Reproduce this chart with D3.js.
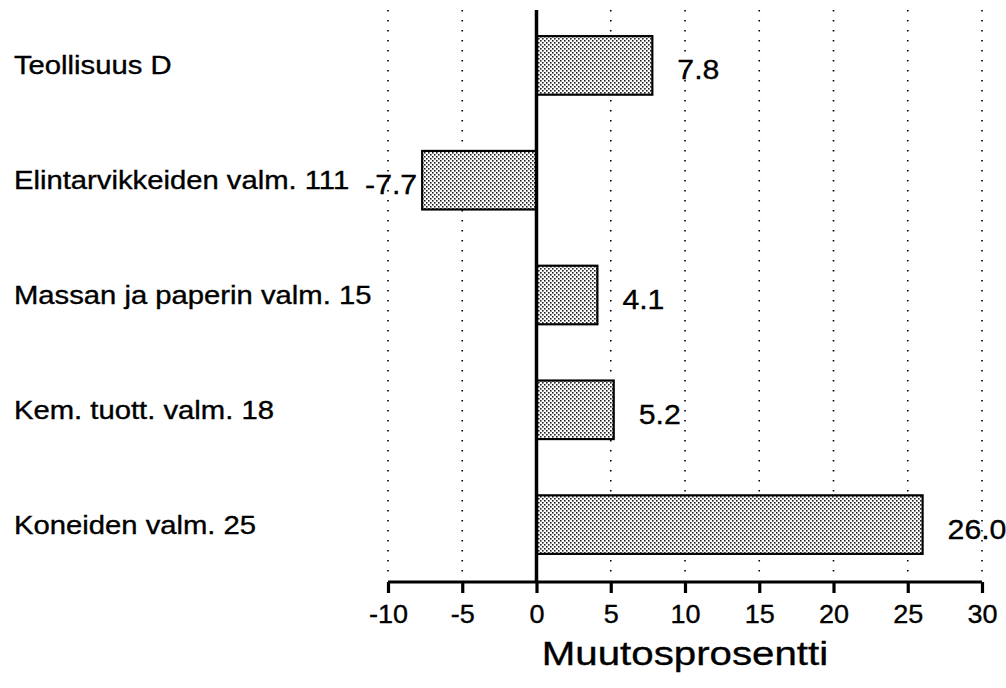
<!DOCTYPE html>
<html>
<head>
<meta charset="utf-8">
<script src="https://cdn.jsdelivr.net/npm/d3@7"></script>
<style>
  html, body { margin: 0; padding: 0; background: #fff; }
  svg { display: block; }
  text { font-family: "Liberation Sans", Arial, Helvetica, sans-serif; fill: #000; stroke: #000; stroke-width: 0.35px; }
</style>
</head>
<body>
<svg id="chart" width="1006" height="688"></svg>
<script>
const categories = ["Teollisuus D", "Elintarvikkeiden valm. 111", "Massan ja paperin valm. 15", "Kem. tuott. valm. 18", "Koneiden valm. 25"];
const values = [7.8, -7.7, 4.1, 5.2, 26.0];
const tickValues = [-10, -5, 0, 5, 10, 15, 20, 25, 30];
const axisTitle = "Muutosprosentti";

const svg = d3.select("#chart");
const W = 1006, H = 688;
svg.append("rect").attr("width", W).attr("height", H).attr("fill", "#fff");

const defs = svg.append("defs");
const pat = defs.append("pattern").attr("id", "stipple")
  .attr("patternUnits", "userSpaceOnUse").attr("width", 4).attr("height", 4);
pat.append("rect").attr("width", 4).attr("height", 4).attr("fill", "#fff");
pat.append("rect").attr("x", 0).attr("y", 0).attr("width", 1.6).attr("height", 1.6).attr("fill", "#222");
pat.append("rect").attr("x", 2).attr("y", 2).attr("width", 1.6).attr("height", 1.6).attr("fill", "#222");

const x = d3.scaleLinear().domain([-10, 30]).range([388, 982]);
const plotTop = 8, plotBottom = 582;
const y = d3.scalePoint().domain(categories).range([plotTop, plotBottom]).padding(0.5);
const barH = y.step() * 0.51;

// dotted gridlines
svg.append("g").selectAll("line")
  .data(tickValues.filter(t => t !== 0))
  .join("line")
  .attr("x1", d => x(d)).attr("x2", d => x(d))
  .attr("y1", plotTop + 2).attr("y2", plotBottom - 3)
  .attr("stroke", "#000").attr("stroke-width", 1.6)
  .attr("stroke-dasharray", "1.6 8.4");

// bars
svg.append("g").selectAll("rect")
  .data(values)
  .join("rect")
  .attr("x", d => Math.min(x(0), x(d)))
  .attr("width", d => Math.abs(x(d) - x(0)))
  .attr("y", (d, i) => y(categories[i]) - barH / 2)
  .attr("height", barH)
  .attr("fill", "url(#stipple)")
  .attr("stroke", "#000").attr("stroke-width", 2.2);

// zero line
svg.append("line")
  .attr("x1", x(0)).attr("x2", x(0))
  .attr("y1", plotTop + 2).attr("y2", plotBottom)
  .attr("stroke", "#000").attr("stroke-width", 3.5);

// x axis
const axis = d3.axisBottom(x).tickValues(tickValues).tickSize(11).tickPadding(4).tickFormat(d => String(d));
const gAxis = svg.append("g").attr("transform", `translate(0,${plotBottom})`).call(axis);
gAxis.select(".domain").attr("stroke", "#000").attr("stroke-width", 3.2)
  .attr("d", `M${x(-10)},0H${x(30)}`);
gAxis.selectAll(".tick line").attr("stroke", "#000").attr("stroke-width", 3.2);
gAxis.selectAll(".tick text")
  .attr("font-size", 25).attr("font-family", "Liberation Sans, Arial, sans-serif")
  .attr("fill", "#000").attr("y", null).attr("dy", null)
  .attr("transform", "translate(0,41) scale(1.08,1)");

// scaled text helper (the original typeface is wider than Liberation Sans)
function stretched(sel, sx) {
  return sel.attr("transform", function () {
    const tx = +this.getAttribute("data-x"), ty = +this.getAttribute("data-y");
    return `translate(${tx},${ty}) scale(${sx},1)`;
  });
}

// axis title
svg.append("text")
  .attr("data-x", x(10)).attr("data-y", 665)
  .attr("text-anchor", "middle")
  .attr("font-size", 33)
  .text(axisTitle)
  .call(stretched, 1.22);

// category labels
svg.append("g").selectAll("text")
  .data(categories)
  .join("text")
  .attr("data-x", 14)
  .attr("data-y", d => y(d) + 9)
  .attr("font-size", 25)
  .text(d => d)
  .call(stretched, 1.17);

// value labels
svg.append("g").selectAll("text")
  .data(values)
  .join("text")
  .attr("data-x", d => d >= 0 ? x(d) + 25 : x(d) - 5)
  .attr("data-y", (d, i) => y(categories[i]) + 14)
  .attr("text-anchor", d => d >= 0 ? "start" : "end")
  .attr("font-size", 28)
  .text(d => d.toFixed(1))
  .call(stretched, 1.08);
</script>
</body>
</html>
